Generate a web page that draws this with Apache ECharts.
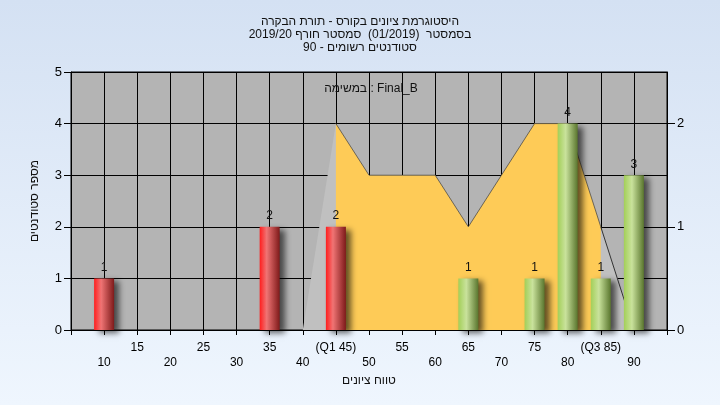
<!DOCTYPE html>
<html><head><meta charset="utf-8">
<script src="https://cdn.jsdelivr.net/npm/echarts@6/dist/echarts.min.js"></script>
<style>
html,body{margin:0;padding:0;width:720px;height:405px;overflow:hidden;background:linear-gradient(to bottom,#D4E1F3,#EFF6FE);}
#c{width:720px;height:405px;}
</style>
</head><body><div id="c"></div>
<script>
// ---- data ----
const titleLines = ['היסטוגרמת ציונים בקורס - תורת הבקרה', 'בסמסטר  (01/2019)  סמסטר חורף 2019/20', 'סטודנטים רשומים - 90'];
const subTitle = 'במשימה : Final_B';
const xAxisName = 'טווח ציונים';
const yAxisName = 'מספר סטודנטים';
const categories = ['5','10','15','20','25','30','35','40','45','50','55','60','65','70','75','80','85','90','95'];
const tickLabels = ['','10','15','20','25','30','35','40','(Q1 45)','50','55','60','65','70','75','80','(Q3 85)','90',''];
const counts = [0,1,0,0,0,0,2,0,2,0,0,0,1,0,1,4,1,3,0];
const curveAll = [null,null,null,null,null,null,null,0,2,1.5,1.5,1.5,1,1.5,2,2,1,0,null];
const curveIQR = [null,null,null,null,null,null,null,null,2,1.5,1.5,1.5,1,1.5,2,2,1,null,null];
const curveTail = [null,null,null,null,null,null,null,null,null,null,null,null,null,null,null,null,1,0,null];
const passMark = 55;
const rightTicks = [0,1,2];

// ---- chart ----
const FONT = '"Liberation Sans", Arial, sans-serif';
const redGrad = new echarts.graphic.LinearGradient(0,0,1,0,[
  {offset:0,color:'#FF1E1E'},{offset:0.35,color:'#F07474'},{offset:1,color:'#7E1A1A'}]);
const greenGrad = new echarts.graphic.LinearGradient(0,0,1,0,[
  {offset:0,color:'#A3CF58'},{offset:0.4,color:'#C9E29C'},{offset:1,color:'#5A762E'}]);

const barData = counts.map((v,i)=>{
  if(!v) return null;
  return {value:v, itemStyle:{color: (+categories[i] < passMark) ? redGrad : greenGrad}};
});

const chart = echarts.init(document.getElementById('c'), null, {renderer:'canvas'});
chart.setOption({
  backgroundColor:'transparent',
  animation:false,
  textStyle:{fontFamily:FONT},
  title:[
    {text:titleLines.join('\n'), left:'center', top:10,
     textStyle:{fontSize:12, fontWeight:'normal', color:'#111', lineHeight:13, fontFamily:FONT}},
    {text:subTitle, left:366, textAlign:'center', top:78,
     textStyle:{fontSize:12, fontWeight:'normal', color:'#111', fontFamily:FONT}}
  ],
  grid:{left:71,right:53,top:72,bottom:75,show:true,backgroundColor:'#B4B4B4',borderColor:'#000',borderWidth:1},
  xAxis:{
    type:'category', data:categories, boundaryGap:false,
    axisLine:{lineStyle:{color:'#000'}},
    axisTick:{show:true,interval:0,length:5,lineStyle:{color:'#000'}},
    axisLabel:{interval:0,fontSize:12,color:'#000',margin:10,lineHeight:15,fontFamily:FONT,
      formatter:(v,i)=> (i%2===1 ? '\n'+tickLabels[i] : tickLabels[i])},
    splitLine:{show:true,interval:0,lineStyle:{color:'#000',width:1}},
    name:xAxisName, nameLocation:'middle', nameGap:45,
    nameTextStyle:{fontSize:12,color:'#111',fontFamily:FONT}
  },
  yAxis:[
    {type:'value',min:0,max:5,interval:1,position:'left',
     axisLine:{show:true,lineStyle:{color:'#000'}},
     axisTick:{show:true,length:7,lineStyle:{color:'#000'}},
     axisLabel:{fontSize:13,color:'#000',margin:9,fontFamily:FONT},
     splitLine:{show:true,lineStyle:{color:'#000',width:1}},
     name:yAxisName,nameLocation:'middle',nameGap:30,
     nameTextStyle:{fontSize:12,color:'#111',fontFamily:FONT}},
    {type:'value',min:0,max:2.5,position:'right',
     axisLine:{show:true,lineStyle:{color:'#000'}},
     axisTick:{show:true,length:8,customValues:rightTicks,lineStyle:{color:'#000'}},
     axisLabel:{fontSize:13,color:'#000',margin:10,customValues:rightTicks,fontFamily:FONT},
     splitLine:{show:false}}
  ],
  series:[
    {type:'line',yAxisIndex:1,data:curveAll,showSymbol:false,connectNulls:false,z:1,
     lineStyle:{width:0},areaStyle:{color:'#C0C0C0',opacity:1}},
    {type:'line',yAxisIndex:1,data:curveIQR,showSymbol:false,connectNulls:false,z:2,
     lineStyle:{width:1,color:'rgba(60,60,60,0.7)'},areaStyle:{color:'#FECB57',opacity:1}},
    {type:'line',yAxisIndex:1,data:curveTail,showSymbol:false,connectNulls:false,z:2,
     lineStyle:{width:1,color:'#333'}},
    {type:'bar',yAxisIndex:0,data:barData,barWidth:20,z:5,
     itemStyle:{shadowBlur:6,shadowColor:'rgba(0,0,0,0.6)',shadowOffsetX:5,shadowOffsetY:3},
     label:{show:true,position:'top',distance:5,fontSize:12,color:'#111',fontFamily:FONT}}
  ]
});
</script>
</body></html>
